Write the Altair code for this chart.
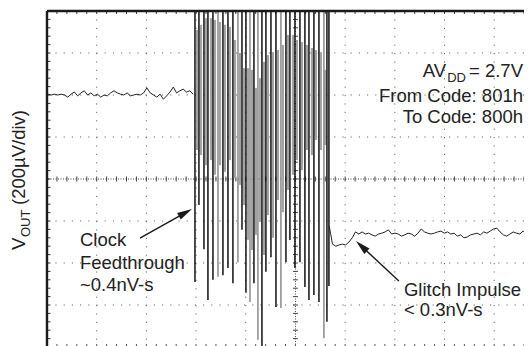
import altair as alt
import pandas as pd
import numpy as np

# ---- data (time in divisions, voltage in divisions of 200 uV) ----
pre_v = [2.02, 2.00, 2.02, 2.00, 2.02, 2.00, 1.95, 2.02, 2.07, 1.98, 2.05, 2.10, 2.00, 2.05, 1.98,
         2.02, 1.95, 2.00, 1.98, 2.05, 2.10, 2.05, 2.02, 2.00, 2.05, 1.98, 2.00, 2.02, 2.00, 2.05,
         2.17, 2.05, 2.00, 1.95, 2.02, 1.90, 1.98, 2.07, 2.19, 2.05, 2.10, 2.14, 2.07, 2.10, 2.02]
pre_t = np.linspace(0.02, 2.94, len(pre_v))

post_v = [-1.12, -1.55, -1.60, -1.57, -1.55, -1.57, -1.50, -1.40, -1.26, -1.31, -1.26, -1.31,
          -1.29, -1.33, -1.36, -1.31, -1.29, -1.26, -1.21, -1.31, -1.29, -1.31, -1.36, -1.33, -1.29,
          -1.31, -1.36, -1.29, -1.19, -1.26, -1.29, -1.31, -1.29, -1.26, -1.24, -1.29, -1.26, -1.31,
          -1.29, -1.36, -1.33, -1.40, -1.38, -1.33, -1.31, -1.29, -1.33, -1.26, -1.29, -1.24, -1.19,
          -1.17, -1.26, -1.33, -1.36, -1.31, -1.26, -1.29, -1.31, -1.24, -1.29, -1.31, -1.29]
post_t = np.linspace(5.68, 9.78, len(post_v))

# ringing: dark strokes (from above the screen down to a low point)
ring_t = [2.978, 3.058, 3.159, 3.239, 3.340, 3.441, 3.541, 3.642, 3.742, 3.843, 3.924, 4.004,
          4.085, 4.165, 4.245, 4.326, 4.406, 4.507, 4.608, 4.708, 4.809, 4.889, 4.990, 5.091,
          5.191, 5.272, 5.372, 5.473, 5.573, 5.634, 5.674]
ring_low = [-2.45, -0.62, -1.67, -2.88, -2.40, -2.33, -2.29, -2.12, -2.48, -1.98, -1.21, -2.71,
            -2.93, -2.48, -3.83, -4.10, -2.21, -1.86, -3.05, -3.07, -1.98, -1.45, -2.12, -1.98,
            -2.57, -2.88, -2.76, -2.93, -3.79, -3.40, -2.55]
ring_col = ["#111111", "#111111", "#111111", "#111111", "#111111", "#8a8a8a", "#111111", "#111111",
            "#111111", "#8a8a8a", "#111111", "#111111", "#8a8a8a", "#111111", "#8a8a8a", "#111111",
            "#111111", "#111111", "#111111", "#8a8a8a", "#111111", "#111111", "#111111", "#111111",
            "#111111", "#111111", "#111111", "#111111", "#8a8a8a", "#111111", "#111111"]

# ringing: grey persistence bands
band_t = [3.018, 3.099, 3.199, 3.300, 3.380, 3.481, 3.581, 3.682, 3.783, 3.883, 3.964, 4.044,
          4.125, 4.205, 4.286, 4.366, 4.447, 4.547, 4.648, 4.748, 4.849, 4.950, 5.030, 5.131,
          5.231, 5.332, 5.412, 5.513, 5.600]
band_high = [3.55, 3.67, 3.83, 3.83, 3.79, 3.74, 3.67, 3.62, 3.31, 3.00, 2.64, 2.64, 2.60, 2.17,
             2.40, 2.79, 2.95, 3.02, 3.07, 3.19, 3.43, 3.43, 3.31, 3.26, 3.19, 3.12, 3.07, 3.02, 2.60]
band_low = [0.69, 0.57, 0.33, 0.45, 0.10, 0.33, 0.17, 0.45, 0.02, -0.14, -0.62, -1.45, -1.69, -1.33,
            -1.02, -1.81, -0.86, -1.40, -0.50, -0.79, -0.26, 0.10, 0.45, 0.21, 0.69, 0.57, 0.93,
            0.69, 0.81]

grid_x = [1, 2, 3, 4, 6, 7, 8, 9]
grid_y = [-3, -2, -1, 1, 2, 3]
minor_x = [round(0.2 * i, 1) for i in range(0, 49)]
minor_y = [round(-4 + 0.2 * i, 1) for i in range(0, 41)]

# annotation texts
left_text = ["Clock", "Feedthrough", "~0.4nV-s", "Glitch Impulse", "< 0.3nV-s"]
left_x = [0.664, 0.664, 0.664, 7.183, 7.183]
left_y = [-1.595, -2.143, -2.667, -2.786, -3.262]

right_text = ["= 2.7V", "DD", "AV", "From Code: 801h", "To Code: 800h"]
right_x = [9.58, 8.433, 8.031, 9.58, 9.58]
right_y = [2.429, 2.31, 2.429, 1.833, 1.333]
right_size = [18.5, 13, 18.5, 18.5, 18.5]

title_text = ["V", "OUT", "(200\u00b5V/div)"]
title_x = [-0.433, -0.352, -0.433]
title_y = [-1.690, -1.381, -0.619]
title_size = [18.5, 13, 18.5]

arrow_x = [1.871, 7.082]
arrow_y = [-1.405, -2.429]
arrow_x2 = [2.787, 6.328]
arrow_y2 = [-0.800, -1.598]
arrow_angle = [330.85, 223.0]

# ---- scales ----
xs = alt.Scale(domain=[0.0, 9.60], nice=False, zero=False)
ys = alt.Scale(domain=[-3.976, 4.0], nice=False, zero=False)


def X(f):
    return alt.X(f"{f}:Q", scale=xs, axis=None)


def Y(f):
    return alt.Y(f"{f}:Q", scale=ys, axis=None)


FONT = "Liberation Sans"
INK = "#222222"

vgrid = alt.Chart(pd.DataFrame({"x": grid_x})).mark_rule(
    color="#6a6a6a", strokeWidth=1, strokeDash=[1.2, 7.2]).encode(x=X("x"))
hgrid = alt.Chart(pd.DataFrame({"y": grid_y})).mark_rule(
    color="#6a6a6a", strokeWidth=1, strokeDash=[1.2, 7.0]).encode(y=Y("y"))

cx = alt.Chart(pd.DataFrame({"x": [5]})).mark_rule(
    color="#444", strokeWidth=1, strokeDash=[1, 1.5]).encode(x=X("x"))
cy = alt.Chart(pd.DataFrame({"y": [0]})).mark_rule(
    color="#444", strokeWidth=1, strokeDash=[1, 1.5]).encode(y=Y("y"))

tick_h = pd.DataFrame({"x": minor_x, "a": -0.06, "b": 0.06})
ctick_x = alt.Chart(tick_h).mark_rule(color="#444", strokeWidth=1, clip=True).encode(
    x=X("x"), y=Y("a"), y2="b")
tick_v = pd.DataFrame({"y": minor_y, "a": 4.95, "b": 5.05})
ctick_y = alt.Chart(tick_v).mark_rule(color="#444", strokeWidth=1, clip=True).encode(
    y=Y("y"), x=X("a"), x2="b")

ftick_left = alt.Chart(pd.DataFrame({"y": minor_y, "a": 0.0, "b": 0.07})).mark_rule(
    color="#333", strokeWidth=1, clip=True).encode(y=Y("y"), x=X("a"), x2="b")
ftick_top = alt.Chart(pd.DataFrame({"x": minor_x, "a": 4.0, "b": 3.93})).mark_rule(
    color="#333", strokeWidth=1, clip=True).encode(x=X("x"), y=Y("a"), y2="b")
ftick_bot = alt.Chart(pd.DataFrame({"x": minor_x, "a": -4.0, "b": -3.93})).mark_rule(
    color="#555", strokeWidth=1, clip=True).encode(x=X("x"), y=Y("a"), y2="b")

bands = alt.Chart(pd.DataFrame({"t": band_t, "hi": band_high, "lo": band_low})).mark_rule(
    color="#a3a3a3", strokeWidth=2.2, clip=True).encode(x=X("t"), y=Y("hi"), y2="lo")

ring = alt.Chart(pd.DataFrame({"t": ring_t, "lo": ring_low, "hi": 4.5, "c": ring_col})).mark_rule(
    strokeWidth=1.5, clip=True).encode(
    x=X("t"), y=Y("hi"), y2="lo", color=alt.Color("c:N", scale=None))

trace_df = pd.concat([
    pd.DataFrame({"t": pre_t, "v": pre_v, "seg": "pre"}),
    pd.DataFrame({"t": post_t, "v": post_v, "seg": "post"}),
])
trace = alt.Chart(trace_df).mark_line(color="#222222", strokeWidth=1, clip=True).encode(
    x=X("t"), y=Y("v"), detail="seg:N")

frame_l = alt.Chart(pd.DataFrame({"x": [0.0]})).mark_rule(color="#1a1a1a", strokeWidth=2.4).encode(x=X("x"))
frame_t = alt.Chart(pd.DataFrame({"y": [4.0]})).mark_rule(color="#1a1a1a", strokeWidth=2.4).encode(y=Y("y"))

txt_left = alt.Chart(pd.DataFrame({"x": left_x, "y": left_y, "s": left_text})).mark_text(
    align="left", baseline="alphabetic", font=FONT, fontSize=18.5, color=INK).encode(
    x=X("x"), y=Y("y"), text="s:N")

txt_right = alt.Chart(pd.DataFrame({"x": right_x, "y": right_y, "s": right_text, "z": right_size})).mark_text(
    align="right", baseline="alphabetic", font=FONT, color=INK).encode(
    x=X("x"), y=Y("y"), text="s:N", size=alt.Size("z:Q", scale=None))

txt_title = alt.Chart(pd.DataFrame({"x": title_x, "y": title_y, "s": title_text, "z": title_size})).mark_text(
    align="left", baseline="alphabetic", font=FONT, color=INK, angle=270).encode(
    x=X("x"), y=Y("y"), text="s:N", size=alt.Size("z:Q", scale=None))

adf = pd.DataFrame({"x": arrow_x, "y": arrow_y, "x2": arrow_x2, "y2": arrow_y2, "ang": arrow_angle})
shafts = alt.Chart(adf).mark_rule(color="#1a1a1a", strokeWidth=1.4).encode(
    x=X("x"), y=Y("y"), x2="x2", y2="y2")
heads = alt.Chart(adf).mark_point(
    shape="M1,0L-1,-0.5L-1,0.5Z", filled=True, size=225, color="#1a1a1a", opacity=1).encode(
    x=X("x2"), y=Y("y2"), angle=alt.Angle("ang:Q", scale=None))

chart = alt.layer(
    vgrid, hgrid, cx, cy, ctick_x, ctick_y, ftick_left, ftick_top, ftick_bot,
    bands, ring, trace, frame_l, frame_t, shafts, heads, txt_left, txt_right, txt_title,
).properties(
    width=477, height=335,
    autosize=alt.AutoSizeParams(type="none"),
    padding={"left": 39, "top": 3, "right": 0, "bottom": 0},
    background="white",
).configure_view(strokeWidth=0)

chart.save("out.html", embed_options={"renderer": "svg", "actions": False})
